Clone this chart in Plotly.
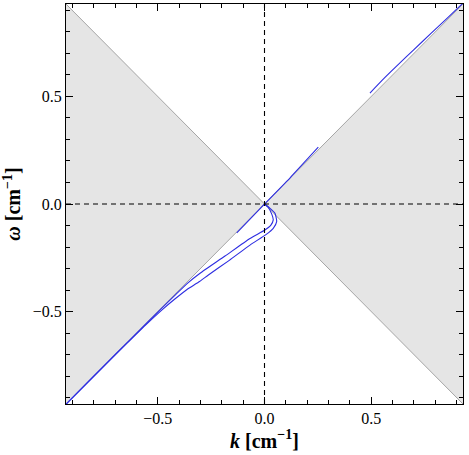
import plotly.graph_objects as go

# ---- data ----
R = 0.93  # plot range for k and omega

# shaded region |omega| < |k|
left_wedge_k = [0, -1.2, -1.2, 0]
left_wedge_w = [0, 1.2, -1.2, 0]
right_wedge_k = [0, 1.2, 1.2, 0]
right_wedge_w = [0, 1.2, -1.2, 0]

# light-line boundaries
light1_k = [-1.2, 1.2]
light1_w = [-1.2, 1.2]
light2_k = [-1.2, 1.2]
light2_w = [1.2, -1.2]

# blue branch through the origin
diag_k = [-0.13, -0.06, 0.0, 0.12, 0.252]
diag_w = [-0.134, -0.062, 0.0, 0.122, 0.264]

# blue upper-right branch
upper_k = [0.494, 0.56, 0.62, 0.70, 0.78, 0.86, 0.95]
upper_w = [0.516, 0.584, 0.642, 0.718, 0.793, 0.868, 0.953]

# inner looping branch
inner_k = [0.0, 0.016, 0.034, 0.041, 0.030, 0.002, -0.068, -0.185, -0.302,
           -0.36, -0.42, -0.48, -0.55, -0.7, -0.95]
inner_w = [0.0, -0.014, -0.047, -0.074, -0.098, -0.121, -0.160, -0.242, -0.322,
           -0.368, -0.425, -0.483, -0.552, -0.701, -0.951]

# outer looping branch
outer_k = [0.0, 0.026, 0.049, 0.057, 0.041, 0.010, -0.068, -0.165, -0.263,
           -0.31, -0.36, -0.42, -0.48, -0.55, -0.65, -0.8, -0.95]
outer_w = [0.0, -0.020, -0.043, -0.082, -0.113, -0.140, -0.191, -0.262, -0.330,
           -0.364, -0.395, -0.442, -0.492, -0.556, -0.653, -0.801, -0.951]

BLUE = "rgb(45,45,225)"
FILL = "rgb(229,229,229)"
EDGE = "rgb(165,165,165)"

fig = go.Figure()
for kk, ww in [(left_wedge_k, left_wedge_w), (right_wedge_k, right_wedge_w)]:
    fig.add_trace(go.Scatter(x=kk, y=ww, mode="lines", fill="toself",
                             fillcolor=FILL, line=dict(width=0, color=FILL),
                             hoverinfo="skip", showlegend=False))
for kk, ww in [(light1_k, light1_w), (light2_k, light2_w)]:
    fig.add_trace(go.Scatter(x=kk, y=ww, mode="lines",
                             line=dict(color=EDGE, width=1), showlegend=False))
for kk, ww in [(diag_k, diag_w), (upper_k, upper_w), (inner_k, inner_w), (outer_k, outer_w)]:
    fig.add_trace(go.Scatter(x=kk, y=ww, mode="lines",
                             line=dict(color=BLUE, width=1.1, shape="spline", smoothing=0.5),
                             showlegend=False))

# dashed axes through the origin
fig.add_shape(type="line", x0=0, x1=0, y0=-R, y1=R, xref="x", yref="y",
              line=dict(color="black", width=1.1, dash="5px,4px"))
fig.add_shape(type="line", x0=-R, x1=R, y0=0, y1=0, xref="x", yref="y",
              line=dict(color="black", width=1.1, dash="5px,4px"))

tickfont = dict(family="Liberation Serif", size=16, color="black")
axis_common = dict(
    range=[-R, R], showgrid=False, zeroline=False,
    showline=True, linecolor="black", linewidth=1, mirror="allticks",
    ticks="inside", ticklen=7, tickcolor="black", tickwidth=1,
    tickvals=[-0.5, 0.0, 0.5], ticktext=["\u22120.5", "0.0", "0.5"],
    tickfont=tickfont,
    minor=dict(tickvals=[-0.9, -0.8, -0.7, -0.6, -0.4, -0.3, -0.2, -0.1,
                         0.1, 0.2, 0.3, 0.4, 0.6, 0.7, 0.8, 0.9],
               ticks="inside", ticklen=4, tickcolor="black", tickwidth=1),
)

fig.update_xaxes(**axis_common,
                 title=dict(text="<b><i>k</i> [cm<sup>\u22121</sup>]</b>",
                            font=dict(family="Liberation Serif", size=20, color="black"),
                            standoff=4))
fig.update_yaxes(**axis_common,
                 title=dict(text="<b><i>\u03c9</i> [cm<sup>\u22121</sup>]</b>",
                            font=dict(family="Liberation Serif", size=20, color="black"),
                            standoff=6))

fig.update_layout(
    width=469, height=455,
    margin=dict(l=66, r=6, t=4, b=51, autoexpand=False),
    paper_bgcolor="white", plot_bgcolor="white",
    showlegend=False,
)

fig.write_html("out.html")
